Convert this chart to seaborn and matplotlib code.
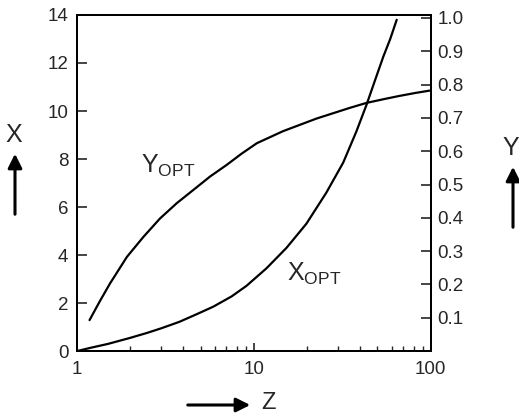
import matplotlib
matplotlib.use("Agg")
import matplotlib.pyplot as plt
import matplotlib.ticker as mticker
from matplotlib.patches import FancyArrowPatch
import numpy as np
import pandas as pd
import seaborn as sns

# Data
z_x = [1.0, 1.2, 1.5, 2.0, 2.5, 3.0, 3.8, 4.8, 5.9, 7.5, 9.1, 11.8, 15.3, 19.8,
       25.7, 32.0, 38.0, 43.3, 48.0, 53.9, 59.0, 64.2]
x_opt = [0.0, 0.14, 0.3, 0.55, 0.76, 0.95, 1.22, 1.55, 1.85, 2.28, 2.72, 3.45, 4.3, 5.3,
         6.6, 7.85, 9.15, 10.25, 11.2, 12.26, 13.0, 13.8]

z_y = [1.18, 1.35, 1.54, 1.92, 2.38, 2.95, 3.67, 4.56, 5.66, 7.03, 8.5, 10.4, 14.6,
       22.6, 34.8, 43.3, 55.0, 66.5, 82.0, 98.6]
y_opt = [0.093, 0.15, 0.203, 0.283, 0.343, 0.398, 0.444, 0.484, 0.524, 0.559, 0.592, 0.624, 0.66,
         0.698, 0.73, 0.745, 0.757, 0.766, 0.775, 0.782]

left_ticks = [0, 2, 4, 6, 8, 10, 12, 14]
right_ticks = [0.1, 0.2, 0.3, 0.4, 0.5, 0.6, 0.7, 0.8, 0.9, 1.0]

df_x = pd.DataFrame({"Z": z_x, "X": x_opt})
df_y = pd.DataFrame({"Z": z_y, "Y": y_opt})

sns.set_style("white")
plt.rcParams["font.family"] = ["Liberation Sans", "DejaVu Sans"]
plt.rcParams["mathtext.fontset"] = "custom"
plt.rcParams["mathtext.rm"] = "Liberation Sans"
plt.rcParams["mathtext.it"] = "Liberation Sans"
plt.rcParams["xtick.direction"] = "in"
plt.rcParams["ytick.direction"] = "in"

fig = plt.figure(figsize=(5.19, 4.16), dpi=100)
ax = fig.add_axes([0.148, 0.156, 0.682, 0.808])
ax2 = ax.twinx()

sns.lineplot(data=df_x, x="Z", y="X", ax=ax, color="black", lw=1.6)
sns.lineplot(data=df_y, x="Z", y="Y", ax=ax2, color="black", lw=1.6)

ax.set_xscale("log")
ax.set_xlim(1, 100)
ax.set_ylim(0, 14)
ax2.set_ylim(0, 1.009)

ax.set_xticks([1, 10, 100])
ax.xaxis.set_major_formatter(mticker.FuncFormatter(lambda v, p: f"{v:g}"))
ax.xaxis.set_minor_locator(mticker.LogLocator(base=10, subs=np.arange(2, 10)))
ax.xaxis.set_minor_formatter(mticker.NullFormatter())
ax.set_yticks(left_ticks)
ax2.set_yticks(right_ticks)
ax2.set_yticklabels([f"{t:.1f}" for t in right_ticks])

ax.set_xlabel("")
ax.set_ylabel("")
ax2.set_ylabel("")

ax.tick_params(axis="x", which="major", direction="in", length=6, width=1.2,
               labelsize=13.5, pad=7, bottom=True)
ax.tick_params(axis="x", which="minor", direction="in", length=3.5, width=1.0, bottom=True)
ax.tick_params(axis="y", direction="in", length=7, width=1.2, labelsize=13.5, pad=6, left=True)
ax2.tick_params(axis="y", direction="in", length=7, width=1.2, labelsize=13.5, pad=5, right=True)

for a in (ax, ax2):
    for s in a.spines.values():
        s.set_color("black")
        s.set_linewidth(1.4)

ax.text(3.3, 7.7, r"$\mathrm{Y_{OPT}}$", fontsize=18, ha="center", va="center")
ax.text(22.0, 3.2, r"$\mathrm{X_{OPT}}$", fontsize=18, ha="center", va="center")

# axis direction labels with arrows
fig.text(14 / 519, 1 - 135 / 416, "X", fontsize=18, ha="center", va="center")
fig.text(511 / 519, 1 - 148 / 416, "Y", fontsize=18, ha="center", va="center")
fig.text(268 / 519, 1 - 403 / 416, "Z", fontsize=17, ha="center", va="center")

arrow = dict(arrowstyle="-|>,head_length=0.7,head_width=0.35", color="black", lw=2.2,
             transform=fig.transFigure, mutation_scale=12)
fig.patches.append(FancyArrowPatch((15 / 519, 1 - 217 / 416), (15 / 519, 1 - 151 / 416), **arrow))
fig.patches.append(FancyArrowPatch((513 / 519, 1 - 230 / 416), (513 / 519, 1 - 164 / 416), **arrow))
fig.patches.append(FancyArrowPatch((185 / 519, 1 - 405 / 416), (253 / 519, 1 - 405 / 416), **arrow))

fig.savefig("out.png", dpi=100)
